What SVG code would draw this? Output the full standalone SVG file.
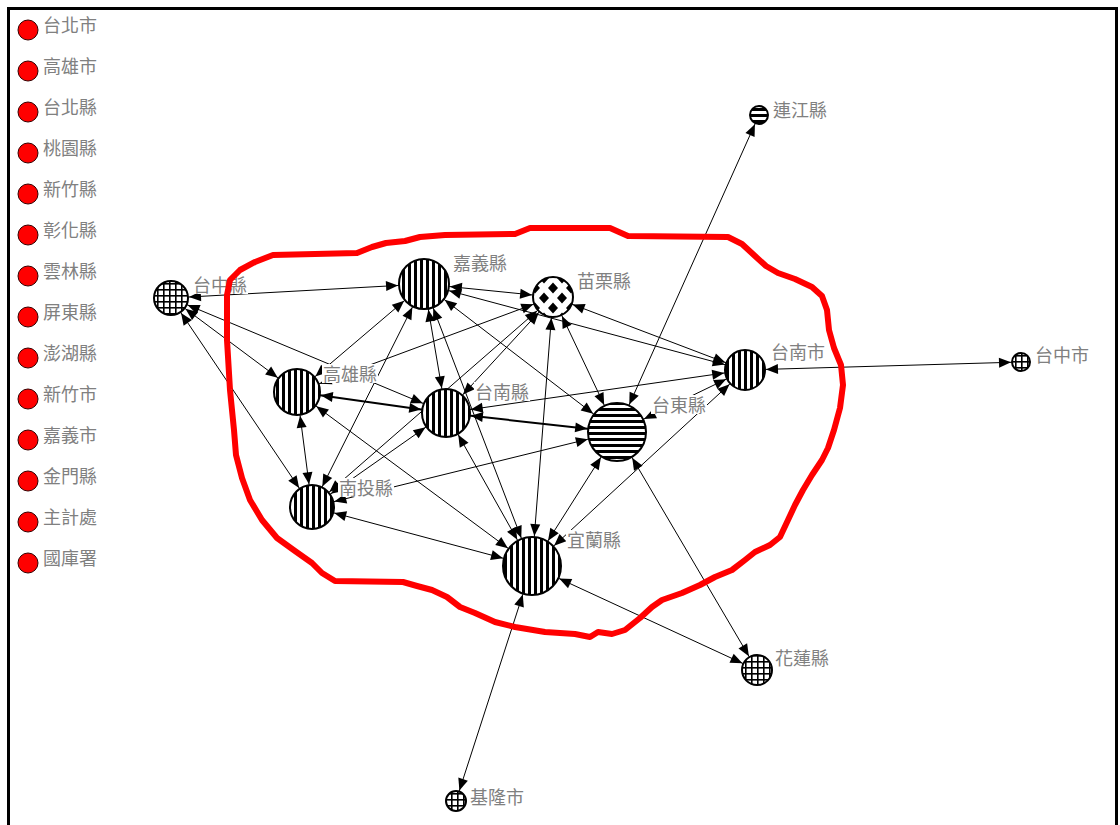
<svg xmlns="http://www.w3.org/2000/svg" width="1120" height="825" viewBox="0 0 1120 825">
<style>
.lbl{font-family:"Noto Sans CJK TC","Noto Sans CJK SC",sans-serif;font-size:18px;fill:#808080}
.bg{fill:#fff}
.nd{stroke:#000;stroke-width:2}
.lg{fill:#ff0000;stroke:#300;stroke-width:1}
.edges line{stroke:#000;stroke-width:1}
.edges line.thick{stroke-width:2}
.contour{fill:none;stroke:#ff0000;stroke-width:6;stroke-linejoin:round;stroke-linecap:round}
</style>
<defs>
<pattern id="pv" patternUnits="userSpaceOnUse" width="6" height="6"><rect width="6" height="6" fill="#fff"/><rect width="3" height="6" fill="#000"/></pattern>
<pattern id="ph" patternUnits="userSpaceOnUse" width="6" height="6"><rect width="6" height="6" fill="#fff"/><rect width="6" height="3" fill="#000"/></pattern>
<pattern id="pg" patternUnits="userSpaceOnUse" width="6" height="6" x="1" y="1"><rect width="6" height="6" fill="#fff"/><rect width="1.6" height="6" fill="#000"/><rect width="6" height="1.6" fill="#000"/></pattern>
<pattern id="pd" patternUnits="userSpaceOnUse" width="18" height="20" x="544" y="278"><rect width="18" height="20" fill="#fff"/><path d="M0,-5.5 L5,0 L0,5.5 L-5,0Z M18,-5.5 L23,0 L18,5.5 L13,0Z M0,14.5 L5,20 L0,25.5 L-5,20Z M18,14.5 L23,20 L18,25.5 L13,20Z M9,4.5 L14,10 L9,15.5 L4,10Z" fill="#000"/></pattern>
<marker id="m9" markerUnits="userSpaceOnUse" orient="auto-start-reverse" refX="10" refY="0" overflow="visible"><path d="M0,0 L-12,-5 L-12,5Z" fill="#000"/></marker>
<marker id="m10" markerUnits="userSpaceOnUse" orient="auto-start-reverse" refX="11" refY="0" overflow="visible"><path d="M0,0 L-12,-5 L-12,5Z" fill="#000"/></marker>
<marker id="m15" markerUnits="userSpaceOnUse" orient="auto-start-reverse" refX="16" refY="0" overflow="visible"><path d="M0,0 L-12,-5 L-12,5Z" fill="#000"/></marker>
<marker id="m17" markerUnits="userSpaceOnUse" orient="auto-start-reverse" refX="18" refY="0" overflow="visible"><path d="M0,0 L-12,-5 L-12,5Z" fill="#000"/></marker>
<marker id="m20" markerUnits="userSpaceOnUse" orient="auto-start-reverse" refX="21" refY="0" overflow="visible"><path d="M0,0 L-12,-5 L-12,5Z" fill="#000"/></marker>
<marker id="m22" markerUnits="userSpaceOnUse" orient="auto-start-reverse" refX="23" refY="0" overflow="visible"><path d="M0,0 L-12,-5 L-12,5Z" fill="#000"/></marker>
<marker id="m23" markerUnits="userSpaceOnUse" orient="auto-start-reverse" refX="24" refY="0" overflow="visible"><path d="M0,0 L-12,-5 L-12,5Z" fill="#000"/></marker>
<marker id="m24" markerUnits="userSpaceOnUse" orient="auto-start-reverse" refX="25" refY="0" overflow="visible"><path d="M0,0 L-12,-5 L-12,5Z" fill="#000"/></marker>
<marker id="m25" markerUnits="userSpaceOnUse" orient="auto-start-reverse" refX="26" refY="0" overflow="visible"><path d="M0,0 L-12,-5 L-12,5Z" fill="#000"/></marker>
<marker id="m29" markerUnits="userSpaceOnUse" orient="auto-start-reverse" refX="30" refY="0" overflow="visible"><path d="M0,0 L-12,-5 L-12,5Z" fill="#000"/></marker>
</defs>
<rect x="0" y="0" width="1120" height="825" fill="#fff"/>
<rect x="8.5" y="8.5" width="1108" height="840" fill="none" stroke="#000" stroke-width="3"/>

<g id="legend">
<g id="lg-1"><circle class="lg" cx="28" cy="30" r="10"/><text class="lbl" x="43" y="31.5">台北市</text></g>
<g id="lg-2"><circle class="lg" cx="28" cy="71" r="10"/><text class="lbl" x="43" y="72.5">高雄市</text></g>
<g id="lg-3"><circle class="lg" cx="28" cy="112" r="10"/><text class="lbl" x="43" y="113.5">台北縣</text></g>
<g id="lg-4"><circle class="lg" cx="28" cy="153" r="10"/><text class="lbl" x="43" y="154.5">桃園縣</text></g>
<g id="lg-5"><circle class="lg" cx="28" cy="194" r="10"/><text class="lbl" x="43" y="195.5">新竹縣</text></g>
<g id="lg-6"><circle class="lg" cx="28" cy="235" r="10"/><text class="lbl" x="43" y="236.5">彰化縣</text></g>
<g id="lg-7"><circle class="lg" cx="28" cy="276" r="10"/><text class="lbl" x="43" y="277.5">雲林縣</text></g>
<g id="lg-8"><circle class="lg" cx="28" cy="317" r="10"/><text class="lbl" x="43" y="318.5">屏東縣</text></g>
<g id="lg-9"><circle class="lg" cx="28" cy="358" r="10"/><text class="lbl" x="43" y="359.5">澎湖縣</text></g>
<g id="lg-10"><circle class="lg" cx="28" cy="399" r="10"/><text class="lbl" x="43" y="400.5">新竹市</text></g>
<g id="lg-11"><circle class="lg" cx="28" cy="440" r="10"/><text class="lbl" x="43" y="441.5">嘉義市</text></g>
<g id="lg-12"><circle class="lg" cx="28" cy="481" r="10"/><text class="lbl" x="43" y="482.5">金門縣</text></g>
<g id="lg-13"><circle class="lg" cx="28" cy="522" r="10"/><text class="lbl" x="43" y="523.5">主計處</text></g>
<g id="lg-14"><circle class="lg" cx="28" cy="563" r="10"/><text class="lbl" x="43" y="564.5">國庫署</text></g>
</g>

<g id="connectors" class="edges">
<line x1="171" y1="298" x2="424" y2="284" marker-start="url(#m17)" marker-end="url(#m25)"/>
<line x1="171" y1="298" x2="297" y2="392" marker-start="url(#m17)" marker-end="url(#m23)"/>
<line x1="171" y1="298" x2="446" y2="413" marker-start="url(#m17)" marker-end="url(#m24)"/>
<line x1="171" y1="298" x2="312" y2="507" marker-start="url(#m17)" marker-end="url(#m22)"/>
<line x1="424" y1="284" x2="553" y2="297" marker-start="url(#m25)" marker-end="url(#m20)"/>
<line x1="424" y1="284" x2="297" y2="392" marker-start="url(#m25)" marker-end="url(#m23)"/>
<line x1="424" y1="284" x2="446" y2="413" marker-start="url(#m25)" marker-end="url(#m24)"/>
<line x1="424" y1="284" x2="617" y2="432" marker-start="url(#m25)" marker-end="url(#m29)"/>
<line x1="424" y1="284" x2="745" y2="370" marker-start="url(#m25)" marker-end="url(#m20)"/>
<line x1="424" y1="284" x2="312" y2="507" marker-start="url(#m25)" marker-end="url(#m22)"/>
<line x1="424" y1="284" x2="532" y2="566" marker-start="url(#m25)" marker-end="url(#m29)"/>
<line x1="553" y1="297" x2="297" y2="392" marker-start="url(#m20)" marker-end="url(#m23)"/>
<line x1="553" y1="297" x2="446" y2="413" marker-start="url(#m20)" marker-end="url(#m24)"/>
<line x1="553" y1="297" x2="617" y2="432" marker-start="url(#m20)" marker-end="url(#m29)"/>
<line x1="553" y1="297" x2="745" y2="370" marker-start="url(#m20)" marker-end="url(#m20)"/>
<line x1="553" y1="297" x2="312" y2="507" marker-start="url(#m20)" marker-end="url(#m22)"/>
<line x1="553" y1="297" x2="532" y2="566" marker-start="url(#m20)" marker-end="url(#m29)"/>
<line class="thick" x1="297" y1="392" x2="446" y2="413" marker-start="url(#m23)" marker-end="url(#m24)"/>
<line x1="297" y1="392" x2="312" y2="507" marker-start="url(#m23)" marker-end="url(#m22)"/>
<line x1="297" y1="392" x2="532" y2="566" marker-start="url(#m23)" marker-end="url(#m29)"/>
<line class="thick" x1="446" y1="413" x2="617" y2="432" marker-start="url(#m24)" marker-end="url(#m29)"/>
<line x1="446" y1="413" x2="745" y2="370" marker-start="url(#m24)" marker-end="url(#m20)"/>
<line x1="446" y1="413" x2="312" y2="507" marker-start="url(#m24)" marker-end="url(#m22)"/>
<line x1="446" y1="413" x2="532" y2="566" marker-start="url(#m24)" marker-end="url(#m29)"/>
<line x1="617" y1="432" x2="745" y2="370" marker-start="url(#m29)" marker-end="url(#m20)"/>
<line x1="617" y1="432" x2="312" y2="507" marker-start="url(#m29)" marker-end="url(#m22)"/>
<line x1="617" y1="432" x2="532" y2="566" marker-start="url(#m29)" marker-end="url(#m29)"/>
<line x1="617" y1="432" x2="759" y2="115" marker-start="url(#m29)" marker-end="url(#m9)"/>
<line x1="617" y1="432" x2="757" y2="670" marker-start="url(#m29)" marker-end="url(#m15)"/>
<line x1="745" y1="370" x2="532" y2="566" marker-start="url(#m20)" marker-end="url(#m29)"/>
<line x1="745" y1="370" x2="1021" y2="362" marker-start="url(#m20)" marker-end="url(#m9)"/>
<line x1="312" y1="507" x2="532" y2="566" marker-start="url(#m22)" marker-end="url(#m29)"/>
<line x1="532" y1="566" x2="757" y2="670" marker-start="url(#m29)" marker-end="url(#m15)"/>
<line x1="532" y1="566" x2="456" y2="801" marker-start="url(#m29)" marker-end="url(#m10)"/>
</g>

<g id="n-taichung-county"><rect class="bg" x="192" y="275" width="56" height="19"/><text class="lbl" x="193" y="291.5">台中縣</text><circle class="nd" cx="171" cy="298" r="17" fill="url(#pg)"/></g>
<g id="n-chiayi-county"><rect class="bg" x="452" y="253" width="56" height="19"/><text class="lbl" x="453" y="270">嘉義縣</text><circle class="nd" cx="424" cy="284" r="25" fill="url(#pv)"/></g>
<g id="n-miaoli-county"><rect class="bg" x="576" y="271" width="56" height="19"/><text class="lbl" x="577" y="288">苗栗縣</text><circle class="nd" cx="553" cy="297" r="20" fill="url(#pd)"/></g>
<g id="n-kaohsiung-county"><rect class="bg" x="322" y="364" width="56" height="19"/><text class="lbl" x="323" y="381">高雄縣</text><circle class="nd" cx="297" cy="392" r="23" fill="url(#pv)"/></g>
<g id="n-tainan-county"><rect class="bg" x="474" y="382" width="56" height="19"/><text class="lbl" x="475" y="399">台南縣</text><circle class="nd" cx="446" cy="413" r="24" fill="url(#pv)"/></g>
<g id="n-taitung-county"><rect class="bg" x="651" y="395" width="56" height="19"/><text class="lbl" x="652" y="412">台東縣</text><circle class="nd" cx="617" cy="432" r="29" fill="url(#ph)"/></g>
<g id="n-tainan-city"><rect class="bg" x="770" y="342" width="56" height="19"/><text class="lbl" x="771" y="359">台南市</text><circle class="nd" cx="745" cy="370" r="20" fill="url(#pv)"/></g>
<g id="n-nantou-county"><rect class="bg" x="338" y="478" width="56" height="19"/><text class="lbl" x="339" y="495">南投縣</text><circle class="nd" cx="312" cy="507" r="22" fill="url(#pv)"/></g>
<g id="n-yilan-county"><rect class="bg" x="566" y="530" width="56" height="19"/><text class="lbl" x="567" y="547">宜蘭縣</text><circle class="nd" cx="532" cy="566" r="29" fill="url(#pv)"/></g>
<g id="n-lienchiang-county"><rect class="bg" x="772" y="99.5" width="56" height="19"/><text class="lbl" x="773" y="116.5">連江縣</text><circle class="nd" cx="759" cy="115" r="9" fill="url(#ph)"/></g>
<g id="n-taichung-city"><rect class="bg" x="1034" y="344.5" width="56" height="19"/><text class="lbl" x="1035" y="361.5">台中市</text><circle class="nd" cx="1021" cy="362" r="9" fill="url(#pg)"/></g>
<g id="n-hualien-county"><rect class="bg" x="774" y="648" width="56" height="19"/><text class="lbl" x="775" y="665">花蓮縣</text><circle class="nd" cx="757" cy="670" r="15" fill="url(#pg)"/></g>
<g id="n-keelung-city"><rect class="bg" x="469" y="787" width="56" height="19"/><text class="lbl" x="470" y="804">基隆市</text><circle class="nd" cx="456" cy="801" r="10" fill="url(#pg)"/></g>

<path class="contour" d="M273,255 L357,253 L372,247 L386,243 L405,241 L420,237 L445,235 L515,234 L530,228 L610,228 L628,236 L728,237 L742,244 L755,256 L766,266 L778,273 L795,279 L812,287 L822,296 L827,310 L829,330 L834,348 L841,365 L843,385 L840,408 L834,430 L828,448 L822,460 L812,475 L803,490 L795,505 L788,520 L780,537 L770,545 L755,552 L745,560 L732,570 L715,577 L700,585 L682,593 L662,600 L652,607 L640,618 L625,630 L612,634 L598,632 L590,637 L575,634 L545,632 L515,627 L495,622 L475,613 L460,607 L447,597 L432,590 L417,586 L403,582 L335,581 L322,573 L312,563 L295,551 L277,538 L262,520 L250,500 L242,478 L236,455 L234,430 L230,390 L227,340 L227,295 L230,280 L240,270 L255,262 Z"/>
</svg>
